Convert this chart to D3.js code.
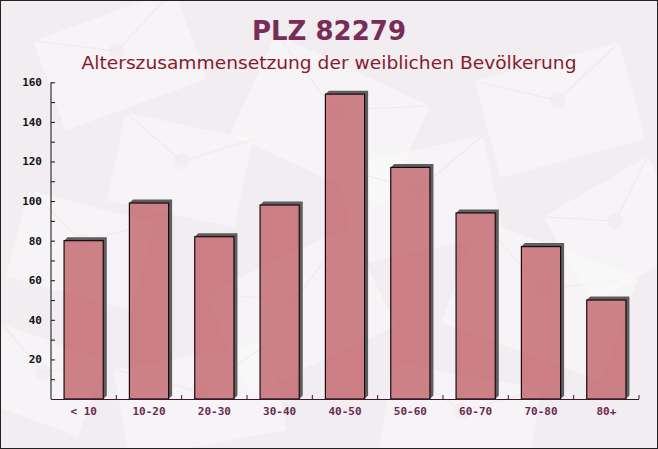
<!DOCTYPE html>
<html><head><meta charset="utf-8">
<script src="https://cdn.jsdelivr.net/npm/d3@7"></script>
<style>html,body{margin:0;padding:0;background:#fff}svg{display:block}</style>
</head><body>
<script>
const categories = ["< 10","10-20","20-30","30-40","40-50","50-60","60-70","70-80","80+"];
const values = [80, 99, 82, 98, 154, 117, 94, 77, 50];
const yTicks = [20, 40, 60, 80, 100, 120, 140, 160];
const titleText = "PLZ 82279";
const subtitleText = "Alterszusammensetzung der weiblichen Bevölkerung";

const W = 658, H = 449;
const svg = d3.select("body").append("svg").attr("width", W).attr("height", H);

// background
svg.append("rect").attr("x",0).attr("y",0).attr("width",W).attr("height",H).attr("fill","#f1edf0");
// decorative faint envelopes
const deco = [
  [120,60,-20,150,95],[330,120,25,170,110],[560,110,-15,150,100],[80,250,15,130,90],
  [300,310,-25,160,110],[540,300,20,170,110],[200,400,-10,160,90],[460,420,10,150,90],
  [620,230,-30,120,100],[420,200,-12,150,100],[180,170,12,130,90],[40,380,20,110,80]
];
const dg = svg.append("g");
deco.forEach(([cx,cy,a,w,h])=>{
  const g = dg.append("g").attr("transform",`translate(${cx},${cy}) rotate(${a})`);
  g.append("rect").attr("x",-w/2).attr("y",-h/2).attr("width",w).attr("height",h)
    .attr("fill","#ffffff").attr("opacity",0.4);
  g.append("path").attr("d",`M${-w/2},${-h/2} L0,${-h/10} L${w/2},${-h/2}`)
    .attr("fill","none").attr("stroke","#f0e8ec").attr("stroke-width",1);
  g.append("circle").attr("cx",0).attr("cy",-h/10).attr("r",8).attr("fill","#f0e6ea").attr("opacity",0.4);
});

// title
svg.append("text").attr("x",329).attr("y",39.5).attr("text-anchor","middle")
  .attr("font-family","DejaVu Sans").attr("font-weight","bold").attr("font-size",26)
  .attr("fill","#782d58").text(titleText);
svg.append("text").attr("x",329).attr("y",69).attr("text-anchor","middle")
  .attr("font-family","DejaVu Sans").attr("font-size",18)
  .attr("fill","#8a1a2c").attr("textLength",495).attr("lengthAdjust","spacingAndGlyphs")
  .text(subtitleText);

const x0 = 51, x1 = 639, yBase = 399, yTop = 82.3;
const x = d3.scaleBand().domain(categories).range([x0, x1]).paddingInner(0.4).paddingOuter(0.2);
const y = d3.scaleLinear().domain([0,160]).range([yBase, yTop]);

// bars with 3D-ish shadow (top and right faces only)
const d = 3.5;
const bars = svg.append("g");
categories.forEach((c,i)=>{
  const bx = x(c), bw = x.bandwidth(), by = y(values[i]);
  bars.append("polygon")
    .attr("points", [[bx,by],[bx+d,by-d],[bx+bw+d,by-d],[bx+bw+d,yBase-d],[bx+bw,yBase],[bx+bw,by]].map(p=>p.join(",")).join(" "))
    .attr("fill","#5e5e5e");
  bars.append("rect").attr("x",bx).attr("y",by).attr("width",bw).attr("height",yBase-by)
    .attr("fill","rgb(192,96,103)").attr("fill-opacity",0.78)
    .attr("stroke","#1a0a10").attr("stroke-width",1.2);
});

// y axis
const yAxis = d3.axisRight(y).tickValues(d3.range(10,161,10)).tickSize(4).tickFormat("");
const ya = svg.append("g").attr("transform",`translate(${x0},0)`).call(yAxis);
ya.select(".domain").attr("stroke","#111").attr("d",`M0,${yTop}V${yBase}`);
ya.selectAll(".tick line").attr("stroke","#111");
svg.append("g").selectAll("text").data(yTicks).join("text")
  .attr("x",42).attr("y",v=>y(v)).attr("dy","0.35em").attr("text-anchor","end")
  .attr("font-family","DejaVu Sans Mono").attr("font-weight","bold").attr("font-size",11)
  .attr("fill","#111").text(v=>v);

// x axis
const xa = svg.append("g");
xa.append("line").attr("x1",x0).attr("x2",x1).attr("y1",yBase+0.5).attr("y2",yBase+0.5).attr("stroke","#3a1a2a");
d3.range(1, categories.length+1).forEach(k=>{
  const tx = x0 + k*(x1-x0)/categories.length;
  xa.append("line").attr("x1",tx).attr("x2",tx).attr("y1",yBase).attr("y2",yBase-4).attr("stroke","#3a1a2a");
});
xa.selectAll("text").data(categories).join("text")
  .attr("x",c=>x(c)+x.bandwidth()/2).attr("y",415).attr("text-anchor","middle")
  .attr("font-family","DejaVu Sans Mono").attr("font-weight","bold").attr("font-size",11)
  .attr("fill","#6b2a52").text(c=>c);

// frame
svg.append("rect").attr("x",0.5).attr("y",0.5).attr("width",W-1).attr("height",H-1)
  .attr("fill","none").attr("stroke","#222").attr("stroke-width",1);
</script>
</body></html>
